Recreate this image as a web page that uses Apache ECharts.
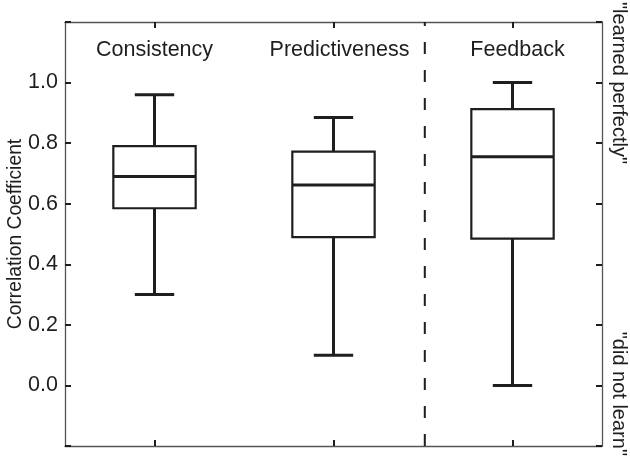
<!DOCTYPE html>
<html>
<head>
<meta charset="utf-8">
<title>Correlation Coefficient</title>
<script src="https://cdn.jsdelivr.net/npm/echarts@6/dist/echarts.min.js"></script>
<style>
  html, body { margin: 0; padding: 0; background: #ffffff; }
  #chart { width: 630px; height: 458px; }
</style>
</head>
<body>
<div id="chart"></div>
<script>
// Groups and their five-number summaries
const categories = ['Consistency', 'Predictiveness', 'Feedback'];
const whiskerLow  = [0.30, 0.10, 0.00];
const quartile1   = [0.585, 0.49, 0.485];
const medians     = [0.69, 0.662, 0.755];
const quartile3   = [0.79, 0.772, 0.912];
const whiskerHigh = [0.96, 0.885, 1.00];

// Y axis ticks and the separator position (in category units)
const yTicks = [0.0, 0.2, 0.4, 0.6, 0.8, 1.0];
const separatorX = [2.01, 2.01];
const separatorY = [-0.2, 1.2];

const FONT = '"Liberation Sans", Arial, Helvetica, sans-serif';
const INK = '#1e1e1e';
const FRAME = '#555555';

const boxData = categories.map((c, i) =>
  [i, whiskerLow[i], quartile1[i], medians[i], quartile3[i], whiskerHigh[i]]);

function renderBox(params, api) {
  const i = api.value(0);
  const band = api.size([1, 0])[0];
  const bw = band * 0.46;
  const cw = band * 0.22;
  const pLow = api.coord([i, api.value(1)]);
  const pQ1 = api.coord([i, api.value(2)]);
  const pMed = api.coord([i, api.value(3)]);
  const pQ3 = api.coord([i, api.value(4)]);
  const pHigh = api.coord([i, api.value(5)]);
  const cx = pMed[0];
  const thick = { stroke: INK, lineWidth: 3, fill: null };
  const thin = { stroke: INK, lineWidth: 2.2, fill: '#ffffff' };
  return {
    type: 'group',
    children: [
      { type: 'line', shape: { x1: cx, y1: pHigh[1], x2: cx, y2: pQ3[1] }, style: thick },
      { type: 'line', shape: { x1: cx, y1: pQ1[1], x2: cx, y2: pLow[1] }, style: thick },
      { type: 'line', shape: { x1: cx - cw / 2, y1: pHigh[1], x2: cx + cw / 2, y2: pHigh[1] }, style: thick },
      { type: 'line', shape: { x1: cx - cw / 2, y1: pLow[1], x2: cx + cw / 2, y2: pLow[1] }, style: thick },
      { type: 'rect', shape: { x: cx - bw / 2, y: pQ3[1], width: bw, height: pQ1[1] - pQ3[1] }, style: thin },
      { type: 'line', shape: { x1: cx - bw / 2, y1: pMed[1], x2: cx + bw / 2, y2: pMed[1] }, style: thick }
    ]
  };
}

const tickStyle = { show: true, inside: true, length: 6, lineStyle: { color: INK, width: 2 } };
const lineStyle = { show: true, onZero: false, lineStyle: { color: FRAME, width: 1.3 } };

const chart = echarts.init(document.getElementById('chart'), null, { renderer: 'canvas' });
chart.setOption({
  animation: false,
  backgroundColor: '#ffffff',
  textStyle: { fontFamily: FONT },
  grid: { left: 65, right: 28, top: 22, bottom: 12, containLabel: false, outerBoundsMode: 'none' },
  xAxis: [
    {
      type: 'category', data: categories, position: 'bottom',
      axisLine: lineStyle,
      axisTick: Object.assign({ alignWithLabel: true, interval: 0 }, tickStyle),
      axisLabel: { show: false }, splitLine: { show: false }
    },
    {
      type: 'category', position: 'top',
      data: [
        { value: categories[0] },
        { value: categories[1], textStyle: { padding: [0, 0, 0, 12] } },
        { value: categories[2], textStyle: { padding: [0, 0, 0, 10] } }
      ],
      axisLine: lineStyle,
      axisTick: Object.assign({ alignWithLabel: true, interval: 0 }, tickStyle),
      axisLabel: {
        show: true, inside: true, interval: 0, hideOverlap: false, margin: 17,
        color: INK, fontSize: 21.5, fontFamily: FONT
      },
      splitLine: { show: false }
    },
    { type: 'value', min: 0, max: 3, show: false }
  ],
  yAxis: [
    {
      type: 'value', min: -0.2, max: 1.2, interval: 0.2, position: 'left',
      name: 'Correlation Coefficient', nameLocation: 'middle', nameGap: 40,
      nameMoveOverlap: false,
      nameTextStyle: { color: INK, fontSize: 19.3, fontFamily: FONT },
      axisLine: lineStyle, axisTick: tickStyle, splitLine: { show: false },
      axisLabel: {
        color: INK, fontSize: 21.5, fontFamily: FONT, margin: 7,
        formatter: v => yTicks.some(t => Math.abs(t - v) < 1e-6) ? v.toFixed(1) : ''
      }
    },
    {
      type: 'value', min: -0.2, max: 1.2, interval: 0.2, position: 'right',
      axisLine: lineStyle, axisTick: tickStyle, splitLine: { show: false },
      axisLabel: { show: false }
    }
  ],
  series: [
    {
      type: 'line', xAxisIndex: 2, yAxisIndex: 0,
      data: separatorX.map((x, k) => [x, separatorY[k]]),
      symbol: 'none', silent: true,
      lineStyle: { color: INK, width: 2, type: [12, 16] },
      z: 1
    },
    {
      type: 'custom', xAxisIndex: 0, yAxisIndex: 0,
      data: boxData,
      encode: { x: 0, y: [1, 2, 3, 4, 5] },
      renderItem: renderBox,
      z: 2
    }
  ],
  graphic: [
    {
      type: 'text', x: 619, y: 2, rotation: -Math.PI / 2,
      style: { text: '"learned perfectly"', fill: INK, font: '20px ' + FONT, align: 'left', verticalAlign: 'middle' }
    },
    {
      type: 'text', x: 619, y: 456, rotation: -Math.PI / 2,
      style: { text: '"did not learn"', fill: INK, font: '20px ' + FONT, align: 'right', verticalAlign: 'middle' }
    }
  ]
});
</script>
</body>
</html>
